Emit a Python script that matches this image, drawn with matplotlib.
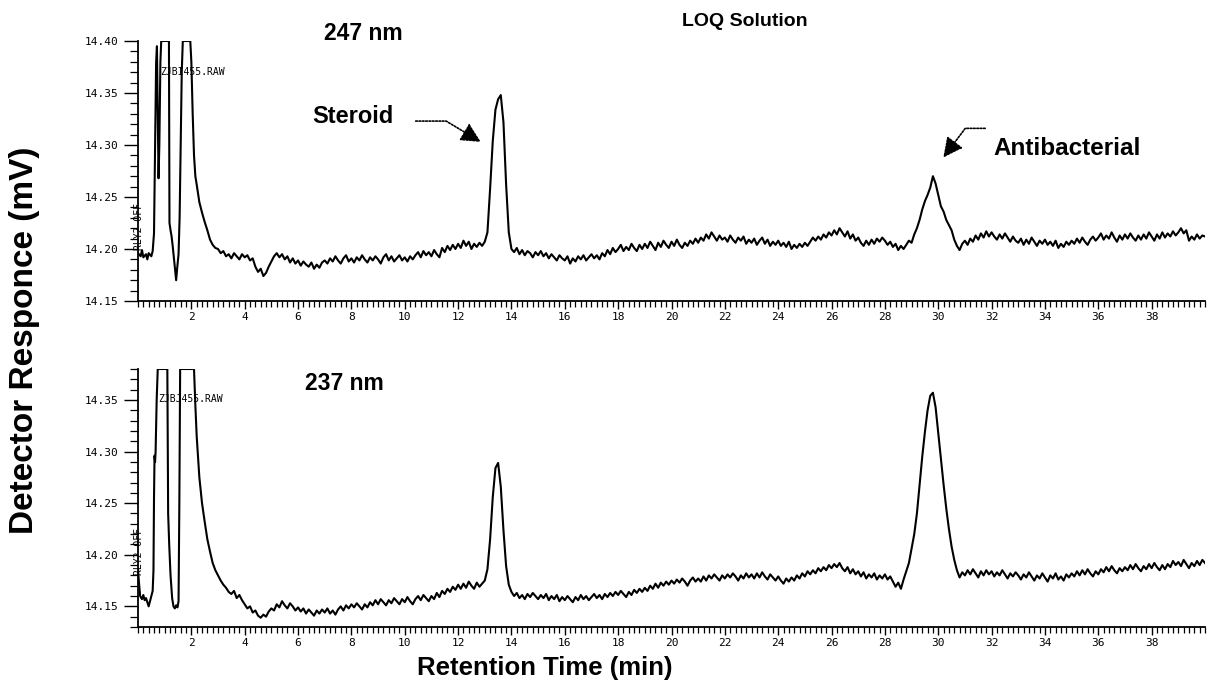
import numpy as np
import matplotlib
matplotlib.use("Agg")
import matplotlib.pyplot as plt
from matplotlib.ticker import MultipleLocator, FormatStrFormatter

# --- 247 nm channel ---------------------------------------------------------
# early part (solvent front, off-scale peaks) sampled irregularly
top_early_t = [0.0, 0.1, 0.15, 0.2, 0.3, 0.35, 0.4, 0.5, 0.55, 0.6, 0.64, 0.68,
               0.71, 0.74, 0.77, 0.80, 0.84, 0.87, 1.16, 1.18, 1.22, 1.26, 1.3,
               1.35, 1.4, 1.43, 1.47, 1.52, 1.56, 1.6, 1.64, 1.68, 1.96, 2.0,
               2.05, 2.1, 2.15, 2.2, 2.3, 2.4, 2.5, 2.6, 2.7, 2.8, 2.9]
top_early_mv = [14.196, 14.193, 14.199, 14.192, 14.195, 14.190, 14.196, 14.193,
                14.198, 14.215, 14.300, 14.380, 14.395, 14.330, 14.268, 14.300,
                14.380, 14.400, 14.400, 14.225, 14.218, 14.212, 14.203, 14.190,
                14.176, 14.170, 14.182, 14.195, 14.230, 14.300, 14.370, 14.400,
                14.400, 14.380, 14.330, 14.290, 14.270, 14.262, 14.245, 14.235,
                14.226, 14.218, 14.209, 14.204, 14.201]

# 3.0 - 40.0 min, one reading every 0.1 min (one row per minute)
top_main_mv = [
    14.200, 14.196, 14.198, 14.193, 14.195, 14.191, 14.196, 14.193, 14.190, 14.195,
    14.192, 14.194, 14.189, 14.191, 14.183, 14.178, 14.181, 14.174, 14.177, 14.183,
    14.188, 14.193, 14.196, 14.192, 14.195, 14.190, 14.193, 14.187, 14.191, 14.186,
    14.189, 14.184, 14.188, 14.185, 14.183, 14.187, 14.181, 14.185, 14.182, 14.187,
    14.189, 14.186, 14.191, 14.188, 14.193, 14.189, 14.186, 14.191, 14.194, 14.188,
    14.191, 14.187, 14.192, 14.189, 14.194, 14.190, 14.187, 14.192, 14.189, 14.193,
    14.190, 14.186, 14.192, 14.195, 14.189, 14.193, 14.188, 14.191, 14.194, 14.189,
    14.192, 14.188, 14.193, 14.190, 14.194, 14.197, 14.192, 14.198, 14.194, 14.197,
    14.193, 14.199, 14.195, 14.192, 14.201, 14.197, 14.203, 14.199, 14.204, 14.200,
    14.205, 14.201, 14.208, 14.203, 14.207, 14.200, 14.205, 14.202, 14.206, 14.203,
    14.207, 14.216, 14.258, 14.304, 14.334, 14.344, 14.348, 14.322, 14.262, 14.216,
    14.200, 14.197, 14.201, 14.195, 14.199, 14.194, 14.198, 14.196, 14.192, 14.197,
    14.194, 14.198, 14.193, 14.196, 14.191, 14.195, 14.192, 14.189, 14.194, 14.191,
    14.189, 14.193, 14.186, 14.191, 14.188, 14.193, 14.190, 14.194, 14.189, 14.192,
    14.195, 14.191, 14.194, 14.190, 14.196, 14.193, 14.199, 14.195, 14.201, 14.197,
    14.200, 14.204, 14.198, 14.202, 14.199, 14.205, 14.201, 14.198, 14.204, 14.200,
    14.205, 14.201, 14.207, 14.203, 14.199, 14.206, 14.202, 14.208, 14.204, 14.201,
    14.207, 14.203, 14.209, 14.204, 14.201, 14.206, 14.203, 14.208, 14.205, 14.210,
    14.206, 14.211, 14.208, 14.214, 14.210, 14.216, 14.212, 14.208, 14.213, 14.209,
    14.211, 14.207, 14.213, 14.209, 14.206, 14.211, 14.208, 14.212, 14.205, 14.209,
    14.206, 14.210, 14.204, 14.208, 14.211, 14.205, 14.209, 14.203, 14.207, 14.204,
    14.208, 14.203, 14.206, 14.202, 14.207, 14.200, 14.204, 14.201, 14.205, 14.202,
    14.206, 14.203, 14.207, 14.211, 14.208, 14.212, 14.209, 14.214, 14.211, 14.216,
    14.213, 14.218, 14.214, 14.220, 14.216, 14.212, 14.217, 14.210, 14.214, 14.208,
    14.211, 14.206, 14.203, 14.208, 14.204, 14.209, 14.205, 14.210, 14.207, 14.211,
    14.208, 14.204, 14.207, 14.202, 14.205, 14.199, 14.203, 14.200, 14.204, 14.208,
    14.206, 14.214, 14.220, 14.228, 14.238, 14.246, 14.252, 14.259, 14.270, 14.263,
    14.252, 14.241, 14.236, 14.228, 14.223, 14.218, 14.209, 14.203, 14.199, 14.205,
    14.208, 14.204, 14.210, 14.207, 14.213, 14.209, 14.215, 14.211, 14.217, 14.212,
    14.216, 14.212, 14.209, 14.214, 14.210, 14.215, 14.211, 14.207, 14.212, 14.208,
    14.206, 14.210, 14.204, 14.209, 14.205, 14.211, 14.207, 14.203, 14.208, 14.205,
    14.209, 14.204, 14.207, 14.203, 14.208, 14.201, 14.205, 14.202, 14.207, 14.204,
    14.208, 14.205, 14.210, 14.206, 14.211, 14.207, 14.204, 14.209, 14.212, 14.208,
    14.211, 14.215, 14.209, 14.213, 14.210, 14.216, 14.211, 14.207, 14.213, 14.209,
    14.214, 14.210, 14.215, 14.211, 14.208, 14.213, 14.209, 14.214, 14.210, 14.216,
    14.212, 14.208, 14.214, 14.210, 14.216, 14.211, 14.215, 14.212, 14.217, 14.213,
    14.216, 14.220, 14.215, 14.218, 14.208, 14.212, 14.209, 14.214, 14.210, 14.213,
    14.212]

# --- 237 nm channel ---------------------------------------------------------
bot_early_t = [0.0, 0.03, 0.08, 0.15, 0.2, 0.25, 0.3, 0.35, 0.4, 0.45, 0.5, 0.55,
               0.58, 0.6, 0.62, 0.64, 0.66, 0.7, 0.74, 1.1, 1.13, 1.17, 1.22,
               1.28, 1.33, 1.38, 1.43, 1.48, 1.52, 1.55, 1.58, 2.1, 2.15, 2.2,
               2.3, 2.4, 2.5, 2.6, 2.7, 2.8, 2.9]
bot_early_mv = [14.186, 14.175, 14.160, 14.157, 14.161, 14.156, 14.158, 14.154,
                14.150, 14.155, 14.160, 14.165, 14.185, 14.255, 14.296, 14.290,
                14.300, 14.350, 14.380, 14.380, 14.240, 14.210, 14.180, 14.158,
                14.150, 14.148, 14.151, 14.149, 14.155, 14.250, 14.380, 14.380,
                14.345, 14.315, 14.275, 14.250, 14.232, 14.215, 14.203, 14.192,
                14.185]

bot_main_mv = [
    14.180, 14.175, 14.171, 14.168, 14.164, 14.162, 14.165, 14.158, 14.161, 14.156,
    14.152, 14.148, 14.150, 14.144, 14.146, 14.141, 14.139, 14.142, 14.140, 14.145,
    14.148, 14.146, 14.152, 14.149, 14.155, 14.151, 14.148, 14.153, 14.150, 14.146,
    14.149, 14.145, 14.148, 14.143, 14.147, 14.144, 14.141, 14.146, 14.143, 14.147,
    14.144, 14.148, 14.143, 14.146, 14.142, 14.147, 14.150, 14.146, 14.151, 14.148,
    14.152, 14.149, 14.153, 14.150, 14.147, 14.152, 14.149, 14.154, 14.151, 14.156,
    14.152, 14.157, 14.154, 14.151, 14.156, 14.153, 14.158, 14.155, 14.152, 14.157,
    14.154, 14.159, 14.155, 14.152, 14.157, 14.160, 14.156, 14.161, 14.158, 14.155,
    14.160, 14.157, 14.163, 14.159, 14.165, 14.162, 14.167, 14.164, 14.169, 14.166,
    14.171, 14.167, 14.172, 14.168, 14.174, 14.170, 14.167, 14.173, 14.169, 14.172,
    14.175, 14.186, 14.215, 14.256, 14.284, 14.289, 14.266, 14.224, 14.189, 14.171,
    14.164, 14.160, 14.163, 14.158, 14.161, 14.157, 14.162, 14.159, 14.163, 14.160,
    14.157, 14.161, 14.158, 14.162, 14.156, 14.160, 14.157, 14.161, 14.155, 14.159,
    14.156, 14.160, 14.157, 14.154, 14.159, 14.156, 14.161, 14.157, 14.160, 14.156,
    14.159, 14.162, 14.158, 14.161, 14.157, 14.162, 14.159, 14.163, 14.160, 14.164,
    14.161, 14.165, 14.162, 14.159, 14.164, 14.161, 14.166, 14.163, 14.167, 14.164,
    14.168, 14.165, 14.170, 14.167, 14.172, 14.168, 14.173, 14.170, 14.174, 14.171,
    14.175, 14.172, 14.176, 14.173, 14.177, 14.174, 14.170, 14.175, 14.178, 14.174,
    14.177, 14.174, 14.179, 14.175, 14.180, 14.177, 14.181, 14.178, 14.175, 14.180,
    14.177, 14.181, 14.178, 14.182, 14.179, 14.175, 14.180, 14.177, 14.182, 14.178,
    14.181, 14.177, 14.182, 14.178, 14.183, 14.179, 14.176, 14.181, 14.178, 14.175,
    14.179, 14.175, 14.172, 14.177, 14.174, 14.178, 14.175, 14.180, 14.177, 14.182,
    14.179, 14.184, 14.181, 14.185, 14.182, 14.187, 14.184, 14.188, 14.185, 14.190,
    14.187, 14.191, 14.188, 14.192, 14.187, 14.184, 14.188, 14.182, 14.186, 14.181,
    14.184, 14.179, 14.183, 14.177, 14.181, 14.178, 14.182, 14.176, 14.180, 14.177,
    14.181, 14.176, 14.179, 14.174, 14.169, 14.173, 14.167, 14.176, 14.184, 14.192,
    14.206, 14.220, 14.240, 14.268, 14.295, 14.319, 14.340, 14.354, 14.357, 14.343,
    14.318, 14.292, 14.268, 14.245, 14.225, 14.208, 14.195, 14.185, 14.178, 14.183,
    14.180, 14.185, 14.181, 14.186, 14.182, 14.178, 14.184, 14.180, 14.185, 14.181,
    14.184, 14.179, 14.183, 14.180, 14.185, 14.181, 14.177, 14.182, 14.179, 14.183,
    14.180, 14.176, 14.181, 14.178, 14.183, 14.179, 14.175, 14.180, 14.177, 14.182,
    14.178, 14.174, 14.180, 14.177, 14.182, 14.176, 14.179, 14.175, 14.181, 14.178,
    14.182, 14.179, 14.184, 14.180, 14.185, 14.181, 14.186, 14.182, 14.179, 14.184,
    14.181, 14.186, 14.183, 14.188, 14.184, 14.189, 14.185, 14.182, 14.187, 14.184,
    14.188, 14.185, 14.190, 14.186, 14.191, 14.187, 14.184, 14.189, 14.186, 14.191,
    14.187, 14.192, 14.188, 14.185, 14.190, 14.186, 14.191, 14.188, 14.194, 14.190,
    14.193, 14.189, 14.195, 14.191, 14.187, 14.192, 14.189, 14.194, 14.190, 14.195,
    14.192]

main_t = np.round(np.arange(3.0, 40.001, 0.1), 1)

top_t = np.concatenate([top_early_t, main_t])
top_mv = np.concatenate([top_early_mv, top_main_mv])
bot_t = np.concatenate([bot_early_t, main_t])
bot_mv = np.concatenate([bot_early_mv, bot_main_mv])

MONO = "DejaVu Sans Mono"
BOLD = dict(family="Liberation Sans", weight="bold")

fig = plt.figure(figsize=(12.07, 6.90), dpi=100)
ax_top = fig.add_axes([138 / 1207, 1 - 301 / 690, 1067 / 1207, 260 / 690])
ax_bot = fig.add_axes([138 / 1207, 1 - 627 / 690, 1067 / 1207, 258 / 690])


def style_axis(ax, ylim, yticks):
    ax.set_xlim(0, 40)
    ax.set_ylim(*ylim)
    for side in ("top", "right"):
        ax.spines[side].set_visible(False)
    for side in ("left", "bottom"):
        ax.spines[side].set_linewidth(1.3)
    ax.set_yticks(yticks)
    ax.yaxis.set_major_formatter(FormatStrFormatter("%.2f"))
    ax.yaxis.set_minor_locator(MultipleLocator(0.01))
    ax.xaxis.set_minor_locator(MultipleLocator(0.2))
    ax.set_xticks(np.arange(2, 39, 2))
    ax.tick_params(axis="y", which="major", length=10, width=1.0, pad=4)
    ax.tick_params(axis="y", which="minor", length=6, width=0.9)
    ax.tick_params(axis="x", which="major", length=6, width=1.0, pad=2)
    ax.tick_params(axis="x", which="minor", length=4, width=0.9)
    for lab in ax.get_xticklabels() + ax.get_yticklabels():
        lab.set_fontfamily(MONO)
        lab.set_fontsize(8)


ax_top.plot(top_t, top_mv, color="black", lw=1.5)
style_axis(ax_top, (14.15, 14.40), [14.15, 14.20, 14.25, 14.30, 14.35, 14.40])

ax_bot.plot(bot_t, bot_mv, color="black", lw=1.5)
style_axis(ax_bot, (14.13, 14.38), [14.15, 14.20, 14.25, 14.30, 14.35])

# instrument print-outs
ax_top.text(0.85, 14.370, "ZJBI455.RAW", fontsize=7, family=MONO,
            va="center", ha="left")
ax_top.text(0.05, 14.222, "RLY2 OFF", fontsize=7, family=MONO,
            rotation=90, va="center", ha="center")
ax_bot.text(0.75, 14.351, "ZJBJ455.RAW", fontsize=7, family=MONO,
            va="center", ha="left")
ax_bot.text(0.05, 14.203, "RLY2 OFF", fontsize=7, family=MONO,
            rotation=90, va="center", ha="center")

# channel / compound labels
fig.text(745 / 1207, 1 - 22 / 690, "LOQ Solution", fontsize=14, ha="center", va="center", **BOLD)
fig.text(363 / 1207, 1 - 33 / 690, "247 nm", fontsize=16.5, ha="center", va="center", **BOLD)
fig.text(344 / 1207, 1 - 383 / 690, "237 nm", fontsize=16.5, ha="center", va="center", **BOLD)

ax_top.text(8.05, 14.327, "Steroid", fontsize=17, ha="center", va="center", **BOLD)
ax_top.text(34.83, 14.297, "Antibacterial", fontsize=17.5, ha="center", va="center", **BOLD)

# dotted leader arrows
arrow = dict(arrowstyle="-|>,head_length=0.8,head_width=0.4", color="black",
             lw=1.2, linestyle=(0, (1, 1)), mutation_scale=15,
             shrinkA=0, shrinkB=0)
ax_top.annotate("", xy=(12.85, 14.303), xytext=(10.41, 14.323),
                arrowprops=dict(**arrow, connectionstyle="angle,angleA=0,angleB=-31,rad=0"))
ax_top.annotate("", xy=(30.19, 14.288), xytext=(31.76, 14.316),
                arrowprops=dict(**arrow, connectionstyle="angle,angleA=0,angleB=53,rad=0"))

fig.text(25 / 1207, 1 - 340 / 690, "Detector Responce (mV)", fontsize=24,
         rotation=90, ha="center", va="center", **BOLD)
fig.text(545 / 1207, 1 - 668 / 690, "Retention Time (min)", fontsize=18.5,
         ha="center", va="center", **BOLD)

fig.savefig("out.png", dpi=100)
